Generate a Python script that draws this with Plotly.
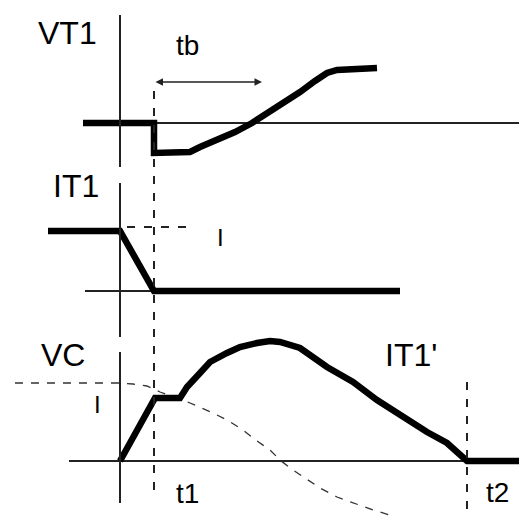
import plotly.graph_objects as go

# time in arbitrary units, origin at the moment T1 is turned off
T1 = 3.4
T2 = 34.7
T_START = -11.2
T_END = 40.7

# VT1 - voltage across the thyristor
vt1_t = [-3.7, 3.4, 3.4, 7.0, 8.0, 9.5, 11.5, 13.2, 14.5, 16.0, 18.0, 19.5, 20.7, 21.7, 24.0, 25.7]
vt1_v = [0.0, 0.0, -3.0, -2.9, -2.4, -1.8, -0.9, 0.0, 0.8, 1.7, 3.1, 4.2, 5.0, 5.3, 5.4, 5.5]
TB = [3.4, 14.2]
TB_LEVEL = 4.1

# IT1 - thyristor current
it1_t = [-7.2, 0.0, 3.4, 28.0]
it1_v = [6.0, 6.0, 0.0, 0.0]
I_LEVEL = 6.4

# VC - capacitor voltage
vc_t = [0.0, 3.5, 6.0, 6.7, 8.0, 9.0, 10.7, 12.0, 13.7, 15.0, 16.0, 18.0, 20.7, 23.3,
        25.7, 28.0, 30.7, 32.7, 34.7, 40.3]
vc_v = [0.0, 6.3, 6.3, 7.4, 8.8, 9.9, 10.8, 11.4, 11.8, 12.0, 11.9, 11.3, 9.4, 7.9,
        6.1, 4.6, 2.9, 1.8, 0.0, 0.0]

# IT1' - dashed current curve drawn in the VC panel
it1p_t = [-10.5, 0.0, 1.3, 2.7, 4.0, 7.0, 9.3, 10.7, 12.3, 13.7, 15.0, 16.0, 17.0, 18.3,
          20.0, 21.7, 23.3, 25.3, 27.3]
it1p_v = [7.8, 7.8, 7.7, 7.5, 6.9, 5.8, 4.8, 4.1, 3.1, 2.0, 1.1, 0.1, -0.7, -1.6,
          -2.7, -3.6, -4.2, -4.9, -5.5]

# the page body has an 8px margin, so the figure covers window pixels 8..527 / 8..516
OFF = 8
W = 527 - OFF
H = 516 - OFF


def py(p):
    return 1 - (p - OFF) / H


thick = dict(color="black", width=6.5)
thin = dict(color="#222222", width=2)
font_big = dict(family="Liberation Sans", size=32, color="black")
font_mid = dict(family="Liberation Sans", size=28, color="black")
font_small = dict(family="Liberation Sans", size=24, color="black")

fig = go.Figure()

# baselines
fig.add_trace(go.Scatter(x=[-3.7, T_END], y=[0, 0], mode="lines", line=thin, yaxis="y"))
fig.add_trace(go.Scatter(x=[-3.5, T1], y=[0, 0], mode="lines", line=thin, yaxis="y2"))
fig.add_trace(go.Scatter(x=[-5.1, T_END], y=[0, 0], mode="lines", line=thin, yaxis="y3"))

# dashed reference lines
fig.add_trace(go.Scatter(x=[0.7, 7.0], y=[I_LEVEL, I_LEVEL], mode="lines",
                         line=dict(color="#222222", width=2, dash="8px,9px"), yaxis="y2"))
fig.add_trace(go.Scatter(x=it1p_t, y=it1p_v, mode="lines",
                         line=dict(color="#333333", width=1.3, dash="8px,8px"), yaxis="y3"))

# waveforms
fig.add_trace(go.Scatter(x=vt1_t, y=vt1_v, mode="lines", line=thick, yaxis="y"))
fig.add_trace(go.Scatter(x=it1_t, y=it1_v, mode="lines", line=thick, yaxis="y2"))
fig.add_trace(go.Scatter(x=vc_t, y=vc_v, mode="lines", line=thick, yaxis="y3"))

# vertical axes of each panel
fig.add_shape(type="line", x0=0, x1=0, y0=10.8, y1=-4.4, xref="x", yref="y", line=thin)
fig.add_shape(type="line", x0=0, x1=0, y0=10.8, y1=-4.6, xref="x", yref="y2", line=thin)
fig.add_shape(type="line", x0=0, x1=0, y0=10.9, y1=-4.2, xref="x", yref="y3", line=thin)

# t1 and t2 markers
fig.add_shape(type="line", x0=T1, x1=T1, y0=py(490), y1=py(82), xref="x", yref="paper",
              line=dict(color="#222222", width=2, dash="8px,9px"))
fig.add_shape(type="line", x0=T2, x1=T2, y0=7.9, y1=-5.5, xref="x", yref="y3",
              line=dict(color="#222222", width=2, dash="8px,9px"))

# tb arrow
fig.add_annotation(x=TB[1], y=TB_LEVEL, ax=TB[0], ay=TB_LEVEL, xref="x", yref="y",
                   axref="x", ayref="y", text="", showarrow=True, arrowside="end+start",
                   arrowhead=2, arrowsize=1, arrowwidth=1.5, arrowcolor="#222222",
                   standoff=0, startstandoff=0)

labels = [
    ("VT1", -5.3, 9.0, "y", font_big),
    ("tb", 6.7, 7.8, "y", font_mid),
    ("IT1", -4.4, 10.5, "y2", font_big),
    ("I", 10.0, 5.4, "y2", font_small),
    ("VC", -5.75, 10.6, "y3", font_big),
    ("I", -2.3, 5.7, "y3", font_small),
    ("IT1'", 29.1, 10.6, "y3", font_big),
    ("t1", 6.7, -3.2, "y3", font_mid),
    ("t2", 37.7, -3.1, "y3", font_mid),
]
for text, x, y, yref, font in labels:
    fig.add_annotation(x=x, y=y, xref="x", yref=yref, text=text, showarrow=False, font=font)

hidden = dict(visible=False, showgrid=False, zeroline=False, fixedrange=True)

fig.update_layout(
    width=W,
    height=H,
    margin=dict(l=0, r=0, t=0, b=0),
    plot_bgcolor="white",
    paper_bgcolor="white",
    showlegend=False,
    xaxis=dict(range=[T_START, T_END], **hidden),
    yaxis=dict(domain=[py(175), 1.0], range=[-5.2, 11.5], **hidden),
    yaxis2=dict(domain=[py(340), py(175)], range=[-4.9, 11.6], anchor="x", **hidden),
    yaxis3=dict(domain=[0.0, py(330)], range=[-5.5, 13.1], anchor="x", **hidden),
)

fig.write_html("out.html")
